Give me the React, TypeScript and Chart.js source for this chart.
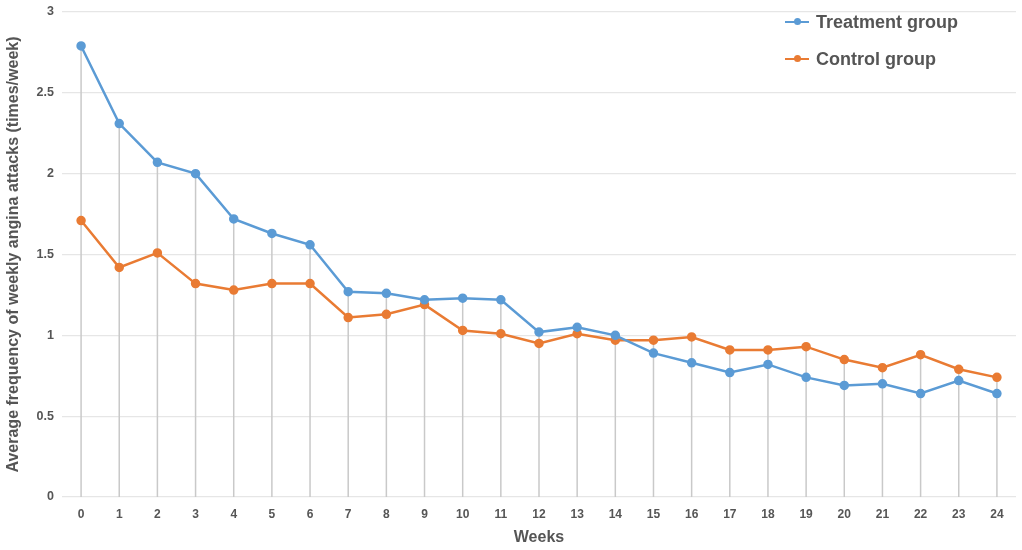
import React, { useRef, useEffect } from 'react';
import { Chart, registerables } from 'chart.js';

Chart.register(...registerables);

const weeks = [
  '0', '1', '2', '3', '4', '5', '6', '7', '8', '9', '10', '11', '12',
  '13', '14', '15', '16', '17', '18', '19', '20', '21', '22', '23', '24',
];

const treatmentGroup = [
  2.79, 2.31, 2.07, 2.0, 1.72, 1.63, 1.56, 1.27, 1.26, 1.22, 1.23, 1.22, 1.02,
  1.05, 1.0, 0.89, 0.83, 0.77, 0.82, 0.74, 0.69, 0.7, 0.64, 0.72, 0.64,
];

const controlGroup = [
  1.71, 1.42, 1.51, 1.32, 1.28, 1.32, 1.32, 1.11, 1.13, 1.19, 1.03, 1.01, 0.95,
  1.01, 0.97, 0.97, 0.99, 0.91, 0.91, 0.93, 0.85, 0.8, 0.88, 0.79, 0.74,
];

const seriesNames = ['Treatment group', 'Control group'];

const colors = {
  blue: '#5b9bd5',
  orange: '#e97b33',
  text: '#555555',
  grid: '#e6e6e6',
  drop: '#c9c9c9',
};

const FONT = "'Liberation Sans', Arial, Helvetica, sans-serif";

// vertical drop lines from the highest point of each week down to the axis
const dropLines = {
  id: 'dropLines',
  beforeDatasetsDraw(chart: any) {
    const { ctx, scales } = chart;
    const x = scales.x;
    const y = scales.y;
    ctx.save();
    ctx.strokeStyle = colors.drop;
    ctx.lineWidth = 1.5;
    weeks.forEach((_, i) => {
      const top = Math.max(treatmentGroup[i], controlGroup[i]);
      const px = x.getPixelForValue(i);
      ctx.beginPath();
      ctx.moveTo(px, y.getPixelForValue(0));
      ctx.lineTo(px, y.getPixelForValue(top));
      ctx.stroke();
    });
    ctx.restore();
  },
};

const App: React.FC = () => {
  const chartRef = useRef<HTMLCanvasElement>(null);
  const chartInstance = useRef<Chart | null>(null);

  useEffect(() => {
    document.body.style.margin = '0';
    if (!chartRef.current) return;
    const ctx = chartRef.current.getContext('2d');
    if (!ctx) return;

    chartInstance.current = new Chart(ctx, {
      type: 'line',
      data: {
        labels: weeks,
        datasets: [
          {
            label: seriesNames[0],
            data: treatmentGroup,
            borderColor: colors.blue,
            backgroundColor: colors.blue,
            borderWidth: 2.5,
            pointRadius: 3.5,
            pointHoverRadius: 3.5,
            tension: 0,
          },
          {
            label: seriesNames[1],
            data: controlGroup,
            borderColor: colors.orange,
            backgroundColor: colors.orange,
            borderWidth: 2.5,
            pointRadius: 3.5,
            pointHoverRadius: 3.5,
            tension: 0,
          },
        ],
      },
      options: {
        responsive: true,
        maintainAspectRatio: false,
        animation: false,
        layout: { padding: { top: 12, right: 6, left: 0, bottom: 0 } },
        plugins: {
          legend: { display: false },
          tooltip: { enabled: false },
        },
        scales: {
          x: {
            offset: true,
            grid: { display: false, drawTicks: false },
            border: { display: false },
            ticks: {
              padding: 10,
              color: colors.text,
              font: { family: FONT, size: 12, weight: 'bold' },
              maxRotation: 0,
            },
            title: {
              display: true,
              text: 'Weeks',
              color: colors.text,
              font: { family: FONT, size: 16, weight: 'bold' },
              padding: { top: 0, bottom: 3 },
            },
            afterFit: (scale: any) => {
              scale.height = 53;
            },
          },
          y: {
            min: 0,
            max: 3,
            grid: { color: colors.grid, lineWidth: 1.2, drawTicks: false },
            border: { display: false },
            ticks: {
              stepSize: 0.5,
              padding: 8,
              color: colors.text,
              font: { family: FONT, size: 12.5, weight: 'bold' },
              callback: (v: any) => String(v),
            },
            title: {
              display: true,
              text: 'Average frequency of weekly angina attacks (times/week)',
              color: colors.text,
              font: { family: FONT, size: 16, weight: 'bold' },
              padding: { top: 4, bottom: 0 },
            },
            afterFit: (scale: any) => {
              scale.width = 62;
              scale.paddingTop = 0;
              scale.paddingBottom = 0;
            },
          },
        },
      },
      plugins: [dropLines],
    } as any);

    return () => {
      if (chartInstance.current) {
        chartInstance.current.destroy();
        chartInstance.current = null;
      }
    };
  }, []);

  const legendItems = [
    { name: seriesNames[0], color: colors.blue, top: 10 },
    { name: seriesNames[1], color: colors.orange, top: 47 },
  ];

  return (
    <div style={{ position: 'relative', width: 1022, height: 550 }}>
      <canvas ref={chartRef}></canvas>
      {legendItems.map((item) => (
        <div
          key={item.name}
          style={{
            position: 'absolute',
            left: 785,
            top: item.top,
            height: 24,
            display: 'flex',
            alignItems: 'center',
            fontFamily: FONT,
            fontWeight: 'bold',
            fontSize: 18,
            color: colors.text,
            whiteSpace: 'nowrap',
          }}
        >
          <span
            style={{
              position: 'relative',
              display: 'inline-block',
              width: 24,
              height: 2.5,
              background: item.color,
              marginRight: 7,
            }}
          >
            <span
              style={{
                position: 'absolute',
                left: 8.5,
                top: -2.5,
                width: 7,
                height: 7,
                borderRadius: '50%',
                background: item.color,
              }}
            />
          </span>
          {item.name}
        </div>
      ))}
    </div>
  );
};

export default App;
